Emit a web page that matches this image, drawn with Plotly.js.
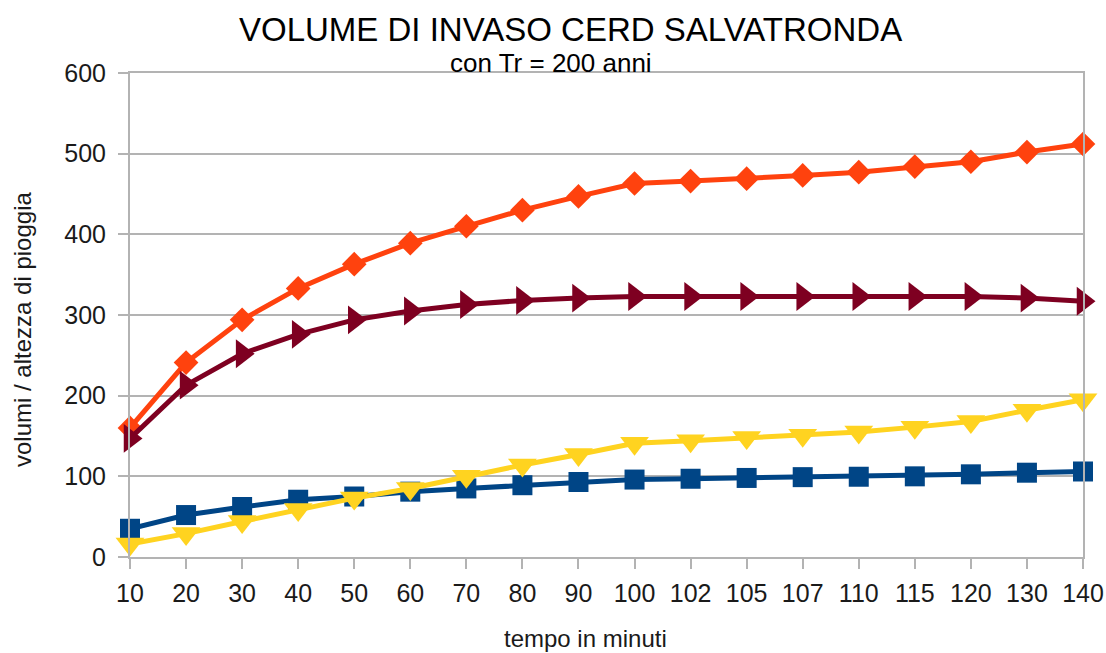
<!DOCTYPE html>
<html>
<head>
<meta charset="utf-8">
<script src="https://cdn.plot.ly/plotly-3.0.1.min.js"></script>
<style>html,body{margin:0;padding:0;background:#fff;}#chart{width:1106px;height:653px;}</style>
</head>
<body>
<div id="chart"></div>
<script>
const categories = ["10","20","30","40","50","60","70","80","90","100","102","105","107","110","115","120","130","140"];
const serieBlu = [35, 52, 62, 71, 75, 81, 85, 89, 93, 96, 97, 98, 99, 99.5, 100, 102.5, 104.5, 106];
const serieArancio = [160, 241, 294, 333, 363, 389, 410, 430, 447, 463, 466, 469, 473, 477, 484, 490, 502, 512];
const serieGialla = [16, 29, 44, 59, 73, 85, 100, 114, 127, 141, 144, 148, 151, 155, 161, 168, 182, 195];
const serieBordeaux = [147, 213, 252, 276, 294, 305, 313, 318, 321, 323, 323, 323, 323, 323, 323, 323, 321, 317];

const titleText = "VOLUME DI INVASO CERD SALVATRONDA";
const subtitleText = "con Tr = 200 anni";
const xTitle = "tempo in minuti";
const yTitle = "volumi / altezza di pioggia";

function tr(name, y, color, symbol, size) {
  return {
    type: "scatter", mode: "lines+markers", name: name,
    x: categories, y: y, cliponaxis: false,
    line: {color: color, width: 5},
    marker: {color: color, symbol: symbol, size: size, line: {width: 0}}
  };
}

const data = [
  tr("Serie 1", serieBlu, "#004586", "square", 20),
  tr("Serie 2", serieArancio, "#ff420e", "diamond", 19),
  tr("Serie 3", serieGialla, "#ffd320", "triangle-down", 25),
  tr("Serie 4", serieBordeaux, "#7e0021", "triangle-right", 25)
];

const font = "Liberation Sans, Arial, sans-serif";
const layout = {
  width: 1106, height: 653,
  margin: {l: 130, r: 23, t: 73, b: 96},
  paper_bgcolor: "#ffffff", plot_bgcolor: "#ffffff",
  showlegend: false,
  font: {family: font, color: "#1a1a1a"},
  xaxis: {
    type: "category", range: [0, 17],
    showgrid: false, showline: true, linecolor: "#b3b3b3", linewidth: 2,
    mirror: true,
    ticks: "outside", ticklen: 10, tickcolor: "#b3b3b3", tickwidth: 2,
    tickfont: {family: font, size: 25, color: "#1a1a1a"},
    ticklabelstandoff: 3,
    zeroline: false
  },
  yaxis: {
    range: [0, 600], dtick: 100,
    showgrid: true, gridcolor: "#b3b3b3", gridwidth: 2,
    showline: true, linecolor: "#b3b3b3", linewidth: 2, mirror: true,
    ticks: "outside", ticklen: 10, tickcolor: "#b3b3b3", tickwidth: 2,
    tickfont: {family: font, size: 25, color: "#1a1a1a"},
    ticklabelstandoff: 7,
    zeroline: false
  },
  annotations: [
    {text: titleText, xref: "paper", yref: "paper", x: (570-130)/953, y: (557-29)/484,
     xanchor: "center", yanchor: "middle", showarrow: false,
     font: {family: font, size: 33, color: "#000"}},
    {text: subtitleText, xref: "paper", yref: "paper", x: (551-130)/953, y: (557-63)/484,
     xanchor: "center", yanchor: "middle", showarrow: false,
     font: {family: font, size: 26, color: "#000"}},
    {text: xTitle, xref: "paper", yref: "paper", x: (585-130)/953, y: (557-638)/484,
     xanchor: "center", yanchor: "middle", showarrow: false,
     font: {family: font, size: 24, color: "#1a1a1a"}},
    {text: yTitle, xref: "paper", yref: "paper", x: (22-130)/953, y: (557-330)/484,
     xanchor: "center", yanchor: "middle", showarrow: false, textangle: -90,
     font: {family: font, size: 24, color: "#1a1a1a"}}
  ]
};

Plotly.newPlot("chart", data, layout, {displayModeBar: false, staticPlot: true});
</script>
</body>
</html>
